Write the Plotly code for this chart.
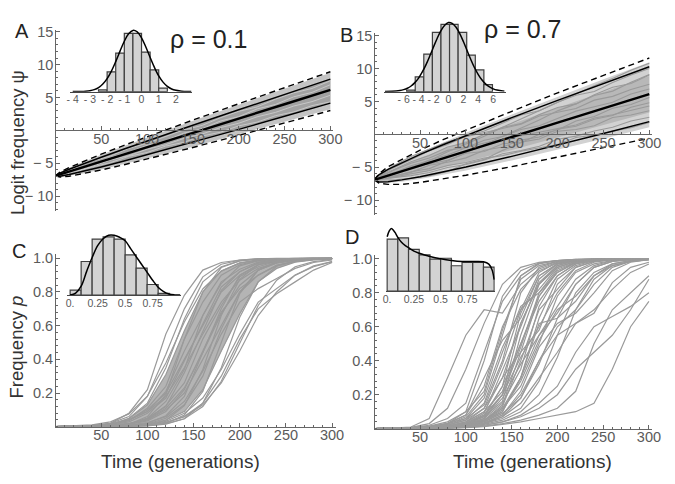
import plotly.graph_objects as go

W, H = 675, 484
FONT = "Liberation Sans, Arial, Helvetica, sans-serif"
TICK_GRAY = "#5a5a5a"
AXIS_GRAY = "#666666"
TRAJ_GRAY = "#9a9a9a"

# ---------------- data ----------------
T_env = [0, 5, 15, 30, 50, 75, 100, 150, 200, 250, 300]
T_grid = [0, 20, 40, 60, 80, 100, 120, 140, 160, 180, 200, 220, 240, 260, 280, 300]

# Panel A (rho = 0.1): logit frequency
A_mean = [-6.9, -6.68, -6.25, -5.6, -4.73, -3.64, -2.55, -0.38, 1.8, 3.98, 6.15]
A_solid_hi = [-6.9, -6.47, -5.88, -5.08, -4.06, -2.82, -1.6, 0.78, 3.14, 5.48, 7.8]
A_solid_lo = [-6.9, -6.94, -6.7, -6.23, -5.54, -4.64, -3.7, -1.79, 0.17, 2.16, 4.15]
A_dash_hi = [-6.9, -6.32, -5.63, -4.72, -3.6, -2.25, -0.95, 1.58, 4.06, 6.51, 8.92]
A_dash_lo = [-6.9, -7.08, -6.95, -6.59, -6.0, -5.2, -4.35, -2.58, -0.75, 1.13, 3.03]
A_cloud_hi = [-6.9, -6.34, -5.67, -4.78, -3.67, -2.34, -1.05, 1.46, 3.92, 6.35, 8.75]
A_cloud_lo = [-6.9, -7.06, -6.91, -6.53, -5.93, -5.11, -4.25, -2.46, -0.6, 1.29, 3.21]
A_core_hi = [-6.9, -6.48, -5.9, -5.11, -4.09, -2.86, -1.65, 0.72, 3.07, 5.4, 7.71]
A_core_lo = [-6.9, -6.93, -6.68, -6.2, -5.51, -4.59, -3.65, -1.73, 0.24, 2.24, 4.24]
A_streaks = [
    [-6.9, -5.73, -4.66, -3.89, -2.72, -1.95, -0.88, 0.09, 0.76, 1.93, 2.9, 3.57, 4.74, 5.71, 6.38, 7.55],
    [-6.9, -6.23, -5.56, -4.89, -3.92, -3.35, -2.38, -1.81, -0.84, -0.27, 0.7, 1.27, 2.24, 2.81, 3.78, 4.35],
    [-6.9, -5.93, -5.26, -4.09, -3.32, -2.25, -1.58, -0.41, 0.26, 1.43, 2.1, 3.27, 3.94, 5.11, 5.78, 6.95],
    [-6.9, -6.43, -5.46, -4.49, -3.82, -2.85, -2.18, -1.21, -0.54, 0.43, 1.1, 2.07, 2.74, 3.71, 4.38, 5.35],
]

# Panel B (rho = 0.7): logit frequency
B_mean = [-6.9, -6.68, -6.25, -5.6, -4.73, -3.65, -2.57, -0.4, 1.77, 3.93, 6.1]
B_solid_hi = [-6.9, -6.14, -5.32, -4.29, -3.03, -1.57, -0.17, 2.54, 5.16, 7.72, 10.26]
B_solid_lo = [-6.9, -7.22, -7.18, -6.91, -6.43, -5.73, -4.97, -3.34, -1.62, 0.14, 1.94]
B_dash_hi = [-6.9, -6.0, -4.9, -3.8, -2.4, -0.8, 0.65, 3.5, 6.3, 9.0, 11.6]
B_dash_lo = [-6.9, -7.4, -7.6, -7.6, -7.3, -6.8, -6.2, -4.9, -3.4, -2.0, -0.6]
B_cloud_hi = [-6.9, -6.05, -5.17, -4.07, -2.75, -1.23, 0.23, 3.03, 5.73, 8.36, 10.95]
B_cloud_lo = [-6.9, -7.33, -7.37, -7.19, -6.78, -6.16, -5.47, -3.95, -2.33, -0.65, 1.08]
B_core_hi = [-6.9, -6.32, -5.63, -4.72, -3.6, -2.26, -0.97, 1.56, 4.03, 6.46, 8.87]
B_core_lo = [-6.9, -7.04, -6.87, -6.48, -5.86, -5.04, -4.17, -2.36, -0.49, 1.4, 3.33]
B_traj = [
    [-6.9, -5.13, -3.87, -2.5, -1.53, -0.27, 0.5, 1.77, 2.93, 3.6, 4.87, 5.93, 6.5, 7.87, 9.03, 10.0],
    [-6.9, -6.63, -6.27, -5.8, -5.03, -4.57, -3.9, -2.93, -2.47, -1.8, -0.73, -0.27, 0.5, 1.07, 2.03, 2.6],
    [-6.9, -5.53, -4.37, -3.6, -2.43, -1.97, -1.3, -0.73, -0.27, 0.3, 0.87, 1.43, 2.5, 2.97, 3.63, 4.3],
    [-6.9, -6.43, -5.67, -5.2, -4.03, -2.77, -1.6, -0.33, 0.93, 2.2, 3.57, 4.63, 5.9, 6.57, 7.93, 9.1],
    [-6.9, -5.83, -5.07, -3.9, -3.13, -1.97, -0.9, -0.33, 0.73, 1.3, 2.37, 3.53, 4.2, 4.87, 6.13, 6.9],
    [-6.9, -6.33, -5.77, -4.7, -4.23, -3.57, -2.4, -1.93, -0.87, -0.4, 0.77, 1.23, 2.3, 2.87, 4.13, 4.8],
    [-6.9, -4.83, -3.37, -2.2, -1.13, -0.37, 0.3, 0.87, 1.53, 2.8, 3.37, 3.93, 5.2, 5.77, 6.83, 7.6],
    [-6.9, -6.93, -6.67, -6.3, -5.63, -4.47, -3.8, -2.43, -1.27, 0.0, 0.67, 2.03, 2.7, 3.97, 4.53, 5.6],
    [-6.9, -5.43, -4.17, -3.2, -1.93, -1.27, 0.0, 1.07, 1.63, 3.0, 4.07, 4.63, 6.0, 7.17, 7.73, 9.0],
    [-6.9, -6.53, -5.97, -5.5, -4.73, -4.27, -3.6, -3.23, -2.57, -2.0, -1.53, -0.47, -0.1, 0.47, 1.03, 1.8],
    [-6.9, -5.93, -4.77, -4.0, -2.63, -1.47, -0.3, 1.07, 2.33, 3.5, 4.77, 6.03, 7.4, 8.47, 9.73, 10.8],
    [-6.9, -6.13, -4.87, -4.5, -3.93, -2.87, -2.6, -1.43, -1.17, -0.7, 0.47, 0.73, 1.3, 2.57, 2.93, 3.6],
]

# Panel C (rho = 0.1): frequency p
C_core_hi = [0.001, 0.002, 0.005, 0.016, 0.047, 0.13, 0.31, 0.57, 0.8, 0.925, 0.973, 0.991, 0.997, 0.999, 1.0, 1.0]
C_core_lo = [0.001, 0.001, 0.001, 0.002, 0.005, 0.014, 0.04, 0.09, 0.22, 0.45, 0.67, 0.86, 0.94, 0.977, 0.99, 0.997]
C_traj = [
    [0.001, 0.002, 0.004, 0.02, 0.08, 0.22, 0.55, 0.78, 0.93, 0.975, 0.99, 0.996, 0.998, 0.999, 1.0, 1.0],
    [0.001, 0.002, 0.004, 0.012, 0.05, 0.14, 0.35, 0.64, 0.86, 0.95, 0.985, 0.995, 0.998, 0.999, 1.0, 1.0],
    [0.001, 0.004, 0.011, 0.029, 0.076, 0.182, 0.378, 0.622, 0.818, 0.924, 0.971, 0.989, 0.996, 0.998, 0.999, 1.0],
    [0.001, 0.0015, 0.004, 0.012, 0.036, 0.11, 0.24, 0.52, 0.74, 0.9, 0.962, 0.988, 0.996, 0.998, 0.999, 1.0],
    [0.001, 0.002, 0.005, 0.014, 0.04, 0.09, 0.21, 0.45, 0.66, 0.86, 0.935, 0.978, 0.991, 0.997, 0.999, 1.0],
    [0.001, 0.001, 0.0015, 0.0045, 0.015, 0.05, 0.15, 0.34, 0.66, 0.85, 0.955, 0.985, 0.995, 0.999, 1.0, 1.0],
    [0.001, 0.003, 0.007, 0.017, 0.04, 0.1, 0.2, 0.4, 0.6, 0.8, 0.9, 0.96, 0.983, 0.993, 0.997, 0.999],
    [0.001, 0.001, 0.002, 0.006, 0.016, 0.05, 0.12, 0.32, 0.56, 0.81, 0.92, 0.975, 0.99, 0.997, 0.999, 1.0],
    [0.001, 0.001, 0.0025, 0.007, 0.018, 0.045, 0.125, 0.26, 0.52, 0.72, 0.89, 0.95, 0.983, 0.993, 0.998, 0.999],
    [0.001, 0.001, 0.001, 0.002, 0.006, 0.02, 0.065, 0.18, 0.44, 0.7, 0.9, 0.962, 0.989, 0.997, 0.999, 1.0],
    [0.001, 0.001, 0.003, 0.007, 0.017, 0.04, 0.1, 0.2, 0.4, 0.6, 0.8, 0.9, 0.96, 0.983, 0.993, 0.997],
    [0.001, 0.001, 0.001, 0.002, 0.005, 0.016, 0.05, 0.13, 0.3, 0.58, 0.8, 0.93, 0.972, 0.99, 0.997, 0.999],
    [0.001, 0.001, 0.001, 0.002, 0.005, 0.014, 0.04, 0.09, 0.22, 0.45, 0.67, 0.86, 0.94, 0.977, 0.99, 0.997],
    [0.001, 0.001, 0.001, 0.002, 0.005, 0.013, 0.032, 0.08, 0.17, 0.34, 0.55, 0.74, 0.82, 0.9, 0.95, 0.98],
    [0.001, 0.001, 0.001, 0.002, 0.005, 0.011, 0.026, 0.06, 0.13, 0.26, 0.45, 0.66, 0.8, 0.9, 0.955, 0.98],
    [0.001, 0.001, 0.001, 0.004, 0.015, 0.06, 0.19, 0.52, 0.8, 0.945, 0.985, 0.996, 0.999, 1.0, 1.0, 1.0],
    [0.001, 0.002, 0.006, 0.02, 0.06, 0.18, 0.43, 0.7, 0.89, 0.965, 0.989, 0.997, 0.999, 1.0, 1.0, 1.0],
    [0.001, 0.003, 0.007, 0.017, 0.04, 0.09, 0.18, 0.35, 0.55, 0.74, 0.87, 0.94, 0.974, 0.989, 0.995, 0.998],
    [0.001, 0.001, 0.001, 0.001, 0.0015, 0.006, 0.02, 0.07, 0.21, 0.5, 0.79, 0.93, 0.98, 0.994, 0.998, 1.0],
    [0.001, 0.001, 0.003, 0.007, 0.018, 0.043, 0.11, 0.23, 0.44, 0.67, 0.84, 0.93, 0.972, 0.989, 0.996, 0.998],
    [0.001, 0.002, 0.005, 0.016, 0.047, 0.13, 0.31, 0.57, 0.8, 0.925, 0.973, 0.991, 0.997, 0.999, 1.0, 1.0],
    [0.001, 0.001, 0.001, 0.001, 0.002, 0.005, 0.015, 0.047, 0.14, 0.35, 0.65, 0.86, 0.953, 0.985, 0.995, 0.998],
    [0.001, 0.001, 0.001, 0.001, 0.003, 0.01, 0.037, 0.125, 0.34, 0.66, 0.875, 0.963, 0.99, 0.997, 0.999, 1.0],
    [0.001, 0.0015, 0.004, 0.011, 0.029, 0.08, 0.17, 0.39, 0.61, 0.83, 0.92, 0.97, 0.989, 0.996, 0.998, 0.999],
    [0.001, 0.001, 0.001, 0.001, 0.0025, 0.007, 0.018, 0.047, 0.12, 0.27, 0.5, 0.72, 0.87, 0.95, 0.98, 0.993],
    [0.001, 0.001, 0.001, 0.002, 0.004, 0.01, 0.025, 0.06, 0.14, 0.3, 0.52, 0.7, 0.79, 0.86, 0.93, 0.975],
    [0.001, 0.001, 0.002, 0.004, 0.01, 0.025, 0.06, 0.15, 0.33, 0.55, 0.74, 0.82, 0.88, 0.94, 0.975, 0.99],
    [0.001, 0.001, 0.002, 0.005, 0.013, 0.035, 0.09, 0.22, 0.45, 0.68, 0.82, 0.9, 0.955, 0.98, 0.992, 0.997],
]

# Panel D (rho = 0.7): frequency p
D_traj = [
    [0.001, 0.003, 0.01, 0.06, 0.3, 0.55, 0.7, 0.68, 0.85, 0.94, 0.98, 0.99, 0.995, 0.998, 1.0, 1.0],
    [0.001, 0.002, 0.008, 0.03, 0.12, 0.35, 0.62, 0.85, 0.95, 0.98, 0.99, 0.996, 0.998, 1.0, 1.0, 1.0],
    [0.001, 0.002, 0.006, 0.02, 0.06, 0.15, 0.45, 0.75, 0.9, 0.97, 0.99, 0.996, 0.998, 1.0, 1.0, 1.0],
    [0.001, 0.002, 0.005, 0.015, 0.04, 0.1, 0.22, 0.58, 0.88, 0.96, 0.985, 0.995, 0.998, 1.0, 1.0, 1.0],
    [0.001, 0.001, 0.004, 0.01, 0.03, 0.08, 0.3, 0.52, 0.65, 0.9, 0.97, 0.99, 0.997, 0.999, 1.0, 1.0],
    [0.001, 0.002, 0.004, 0.012, 0.03, 0.06, 0.14, 0.4, 0.8, 0.95, 0.985, 0.995, 0.998, 1.0, 1.0, 1.0],
    [0.001, 0.001, 0.003, 0.008, 0.02, 0.05, 0.12, 0.3, 0.62, 0.85, 0.96, 0.99, 0.996, 0.999, 1.0, 1.0],
    [0.001, 0.001, 0.002, 0.006, 0.015, 0.04, 0.1, 0.22, 0.5, 0.78, 0.93, 0.98, 0.995, 0.998, 1.0, 1.0],
    [0.001, 0.001, 0.003, 0.007, 0.02, 0.06, 0.18, 0.48, 0.7, 0.82, 0.95, 0.985, 0.995, 0.998, 1.0, 1.0],
    [0.001, 0.002, 0.005, 0.01, 0.025, 0.07, 0.2, 0.55, 0.9, 0.975, 0.99, 0.997, 0.999, 1.0, 1.0, 1.0],
    [0.001, 0.001, 0.002, 0.005, 0.012, 0.03, 0.08, 0.2, 0.42, 0.6, 0.8, 0.93, 0.98, 0.995, 0.998, 1.0],
    [0.001, 0.001, 0.002, 0.004, 0.01, 0.025, 0.06, 0.15, 0.35, 0.72, 0.9, 0.97, 0.99, 0.997, 0.999, 1.0],
    [0.001, 0.001, 0.002, 0.005, 0.01, 0.02, 0.05, 0.1, 0.3, 0.55, 0.68, 0.85, 0.95, 0.985, 0.995, 0.998],
    [0.001, 0.001, 0.002, 0.005, 0.012, 0.03, 0.07, 0.16, 0.55, 0.85, 0.95, 0.985, 0.995, 0.998, 1.0, 1.0],
    [0.001, 0.001, 0.001, 0.003, 0.008, 0.02, 0.04, 0.09, 0.18, 0.38, 0.65, 0.85, 0.95, 0.985, 0.995, 0.998],
    [0.001, 0.001, 0.002, 0.004, 0.01, 0.02, 0.045, 0.12, 0.25, 0.5, 0.78, 0.92, 0.97, 0.99, 0.997, 0.999],
    [0.001, 0.001, 0.001, 0.003, 0.006, 0.015, 0.03, 0.07, 0.15, 0.3, 0.45, 0.62, 0.7, 0.82, 0.92, 0.97],
    [0.001, 0.001, 0.001, 0.002, 0.005, 0.01, 0.025, 0.05, 0.1, 0.2, 0.42, 0.7, 0.88, 0.96, 0.985, 0.995],
    [0.001, 0.001, 0.001, 0.002, 0.004, 0.008, 0.02, 0.04, 0.08, 0.15, 0.25, 0.45, 0.6, 0.66, 0.72, 0.8],
    [0.001, 0.001, 0.001, 0.002, 0.004, 0.008, 0.015, 0.03, 0.05, 0.08, 0.12, 0.22, 0.5, 0.7, 0.8, 0.9],
    [0.001, 0.001, 0.001, 0.002, 0.003, 0.006, 0.012, 0.025, 0.04, 0.06, 0.08, 0.1, 0.15, 0.35, 0.6, 0.75],
    [0.001, 0.001, 0.002, 0.004, 0.008, 0.018, 0.04, 0.1, 0.3, 0.62, 0.65, 0.75, 0.9, 0.97, 0.99, 0.997],
    [0.001, 0.001, 0.002, 0.004, 0.01, 0.025, 0.07, 0.25, 0.68, 0.9, 0.97, 0.99, 0.997, 0.999, 1.0, 1.0],
    [0.001, 0.001, 0.002, 0.005, 0.012, 0.03, 0.09, 0.35, 0.6, 0.88, 0.97, 0.99, 0.997, 0.999, 1.0, 1.0],
    [0.001, 0.001, 0.001, 0.003, 0.007, 0.015, 0.035, 0.08, 0.2, 0.4, 0.55, 0.62, 0.68, 0.86, 0.95, 0.98],
    [0.001, 0.001, 0.002, 0.004, 0.009, 0.02, 0.05, 0.13, 0.4, 0.7, 0.82, 0.95, 0.985, 0.995, 0.998, 1.0],
    [0.001, 0.001, 0.001, 0.003, 0.006, 0.012, 0.03, 0.06, 0.12, 0.28, 0.55, 0.8, 0.92, 0.97, 0.99, 0.996],
    [0.001, 0.002, 0.005, 0.012, 0.03, 0.08, 0.25, 0.6, 0.82, 0.93, 0.975, 0.99, 0.997, 0.999, 1.0, 1.0],
    [0.001, 0.001, 0.001, 0.002, 0.004, 0.01, 0.02, 0.04, 0.07, 0.12, 0.2, 0.35, 0.45, 0.55, 0.7, 0.88],
    [0.001, 0.001, 0.002, 0.005, 0.01, 0.02, 0.05, 0.14, 0.45, 0.78, 0.92, 0.98, 0.995, 0.998, 1.0, 1.0],
    [0.001, 0.001, 0.001, 0.002, 0.005, 0.012, 0.03, 0.08, 0.22, 0.48, 0.62, 0.68, 0.8, 0.93, 0.98, 0.995],
    [0.001, 0.002, 0.004, 0.01, 0.03, 0.1, 0.4, 0.78, 0.93, 0.975, 0.99, 0.997, 0.999, 1.0, 1.0, 1.0],
    [0.001, 0.001, 0.002, 0.005, 0.012, 0.03, 0.08, 0.25, 0.5, 0.75, 0.9, 0.97, 0.99, 0.997, 0.999, 1.0],
    [0.001, 0.001, 0.002, 0.004, 0.01, 0.025, 0.06, 0.2, 0.62, 0.86, 0.96, 0.99, 0.997, 0.999, 1.0, 1.0],
    [0.001, 0.001, 0.002, 0.006, 0.015, 0.04, 0.12, 0.38, 0.7, 0.92, 0.98, 0.995, 0.998, 1.0, 1.0, 1.0],
    [0.001, 0.001, 0.001, 0.003, 0.008, 0.02, 0.05, 0.12, 0.3, 0.65, 0.88, 0.96, 0.99, 0.997, 0.999, 1.0],
    [0.001, 0.001, 0.002, 0.005, 0.012, 0.035, 0.1, 0.3, 0.45, 0.58, 0.85, 0.95, 0.985, 0.995, 0.998, 1.0],
    [0.001, 0.001, 0.002, 0.004, 0.009, 0.02, 0.06, 0.18, 0.38, 0.55, 0.72, 0.88, 0.96, 0.99, 0.997, 0.999],
    [0.001, 0.001, 0.001, 0.003, 0.007, 0.018, 0.045, 0.11, 0.28, 0.52, 0.7, 0.78, 0.9, 0.96, 0.985, 0.995],
    [0.001, 0.001, 0.002, 0.005, 0.011, 0.028, 0.075, 0.2, 0.48, 0.8, 0.94, 0.98, 0.995, 0.998, 1.0, 1.0],
    [0.001, 0.002, 0.004, 0.009, 0.02, 0.05, 0.15, 0.45, 0.72, 0.8, 0.92, 0.975, 0.99, 0.997, 0.999, 1.0],
    [0.001, 0.001, 0.001, 0.002, 0.005, 0.012, 0.03, 0.07, 0.18, 0.4, 0.6, 0.7, 0.85, 0.95, 0.985, 0.995],
]

# Inset histograms (bin edges, bar heights) and fitted curves
histA_edges = [-2.5, -2.0, -1.5, -1.0, -0.5, 0.0, 0.5, 1.0, 1.5]
histA_heights = [1.7, 20, 39, 59, 59, 40, 22, 3.5]
curveA_x = [-4.0, -3.5, -3.25, -3.0, -2.75, -2.5, -2.25, -2.0, -1.75, -1.5, -1.25, -1.0, -0.75, -0.5,
            -0.25, 0.0, 0.25, 0.5, 0.75, 1.0, 1.25, 1.5, 1.75, 2.0, 2.25, 2.5, 2.75, 2.9]
curveA_y = [0.0, 0.15, 0.4, 0.93, 2.0, 4.1, 7.7, 13.2, 20.8, 30.4, 41.0, 51.0, 58.5, 62.0,
            60.4, 54.4, 45.2, 34.6, 24.5, 15.9, 9.6, 5.3, 2.7, 1.3, 0.56, 0.23, 0.08, 0.0]
histA_ticks = [-4, -3, -2, -1, 0, 1, 2]
histA_ticktext = ["- 4", "- 3", "- 2", "- 1", "0", "1", "2"]

histB_edges = [-5.6, -4.45, -3.3, -2.15, -1.0, 0.15, 1.3, 2.45, 3.6, 4.75, 5.9]
histB_heights = [1.5, 15, 38, 60, 68, 68, 60, 37, 22, 7]
curveB_x = [-8.5, -7.0, -6.5, -6.0, -5.5, -5.0, -4.5, -4.0, -3.5, -3.0, -2.5, -2.0, -1.5, -1.0, -0.5,
            0.0, 0.5, 1.0, 1.5, 2.0, 2.5, 3.0, 3.5, 4.0, 4.5, 5.0, 5.5, 6.0, 6.5, 7.5]
curveB_y = [0.1, 0.6, 1.1, 2.0, 3.4, 5.7, 9.1, 13.7, 19.9, 27.4, 36.0, 45.2, 54.1, 61.8, 67.3,
            70.0, 69.2, 65.4, 58.9, 50.7, 41.5, 32.5, 24.2, 17.3, 11.7, 7.6, 4.7, 2.8, 1.6, 0.5]
histB_ticks = [-6, -4, -2, 0, 2, 4, 6]
histB_ticktext = ["- 6", "- 4", "- 2", "0", "2", "4", "6"]

histC_edges = [0.0, 0.1, 0.2, 0.3, 0.4, 0.5, 0.6, 0.7, 0.8, 0.9]
histC_heights = [5, 34, 56.7, 59, 56.7, 40.7, 27.3, 10.7, 1.7]
curveC_x = [0.0, 0.05, 0.1, 0.15, 0.2, 0.25, 0.3, 0.35, 0.4, 0.45, 0.5, 0.55, 0.6, 0.65, 0.7,
            0.75, 0.8, 0.85, 0.9, 0.95, 1.0]
curveC_y = [0, 2, 9, 24, 38, 50, 57, 60.5, 60.5, 58.5, 55, 47, 39, 31, 23, 15, 8, 3.5, 1, 0.2, 0]

histD_edges = [0.0, 0.1, 0.2, 0.3, 0.4, 0.5, 0.6, 0.7, 0.8, 0.9, 1.0]
histD_heights = [52.7, 54, 42.3, 36.7, 32.3, 33.3, 25.7, 29, 29, 24.3]
curveD_x = [0.0, 0.02, 0.04, 0.06, 0.08, 0.1, 0.13, 0.17, 0.21, 0.25, 0.3, 0.35, 0.4, 0.5, 0.6,
            0.7, 0.8, 0.9, 0.95, 0.98, 1.0]
curveD_y = [55, 61, 63.3, 61.5, 58.3, 54.5, 50, 46, 43.3, 40.5, 38.3, 36.5, 35, 32.7, 31, 30, 30,
            29.7, 27.3, 21.7, 11.7]
freq_hist_ticks = [0, 0.25, 0.5, 0.75]
freq_hist_ticktext = ["0.", "0.25", "0.5", "0.75"]

time_ticks = [50, 100, 150, 200, 250, 300]
logit_ticks = [-10, -5, 5, 10, 15]
logit_ticktext = ["\u2212 10", "\u2212 5", "5", "10", "15"]
freq_ticks = [0.2, 0.4, 0.6, 0.8, 1.0]
freq_ticktext = ["0.2", "0.4", "0.6", "0.8", "1.0"]


# ---------------- helpers ----------------
def fx(p):
    return p / W


def fy(p):
    return 1 - p / H


fig = go.Figure()


def add_line(x, y, ax, color, width, dash=None, shape="linear"):
    fig.add_trace(go.Scatter(x=x, y=y, mode="lines",
                             line=dict(color=color, width=width, dash=dash, shape=shape),
                             xaxis="x" + ax, yaxis="y" + ax, hoverinfo="skip"))


def add_band(x, hi, lo, ax, color):
    fig.add_trace(go.Scatter(x=list(x) + list(x)[::-1], y=list(hi) + list(lo)[::-1],
                             mode="lines", fill="toself", fillcolor=color,
                             line=dict(width=0, color=color),
                             xaxis="x" + ax, yaxis="y" + ax, hoverinfo="skip"))


def add_hist(edges, heights, ax):
    centers = [(edges[i] + edges[i + 1]) / 2 for i in range(len(heights))]
    widths = [edges[i + 1] - edges[i] for i in range(len(heights))]
    fig.add_trace(go.Bar(x=centers, y=heights, width=widths,
                         marker=dict(color="#d3d3d3", line=dict(color="#3f3f3f", width=1.2)),
                         xaxis="x" + ax, yaxis="y" + ax, hoverinfo="skip"))


# ---------------- Panel A ----------------
add_band(T_env, A_cloud_hi, A_cloud_lo, "", "#c4c4c4")
add_band(T_env, A_core_hi, A_core_lo, "", "#a2a2a2")
for s in A_streaks:
    add_line(T_grid, s, "", "#d0d0d0", 0.8)
add_line(T_env, A_dash_hi, "", "black", 1.4, dash="6px,4px")
add_line(T_env, A_dash_lo, "", "black", 1.4, dash="6px,4px")
add_line(T_env, A_solid_hi, "", "black", 1.5)
add_line(T_env, A_solid_lo, "", "black", 1.5)
add_line(T_env, A_mean, "", "black", 2.4)

# ---------------- Panel B ----------------
add_band(T_env, B_cloud_hi, B_cloud_lo, "2", "#d2d2d2")
add_band(T_env, B_core_hi, B_core_lo, "2", "#b8b8b8")
for tr in B_traj:
    add_line(T_grid, tr, "2", TRAJ_GRAY, 1.1)
add_line(T_env, B_dash_hi, "2", "black", 1.4, dash="6px,4px")
add_line(T_env, B_dash_lo, "2", "black", 1.4, dash="6px,4px")
add_line(T_env, B_solid_hi, "2", "black", 1.5)
add_line(T_env, B_solid_lo, "2", "black", 1.5)
add_line(T_env, B_mean, "2", "black", 2.4)

# ---------------- Panel C ----------------
add_band(T_grid, C_core_hi, C_core_lo, "3", "#b4b4b4")
for tr in C_traj:
    add_line(T_grid, tr, "3", TRAJ_GRAY, 1.2)

# ---------------- Panel D ----------------
for tr in D_traj:
    add_line(T_grid, tr, "4", TRAJ_GRAY, 1.2)

# ---------------- insets ----------------
add_hist(histA_edges, histA_heights, "5")
add_line(curveA_x, curveA_y, "5", "black", 1.5, shape="spline")
add_hist(histB_edges, histB_heights, "6")
add_line(curveB_x, curveB_y, "6", "black", 1.5, shape="spline")
add_hist(histC_edges, histC_heights, "7")
add_line(curveC_x, curveC_y, "7", "black", 1.5, shape="spline")
add_hist(histD_edges, histD_heights, "8")
add_line(curveD_x, curveD_y, "8", "black", 1.5, shape="spline")

# ---------------- axes ----------------
tickfont = dict(family=FONT, size=14.5, color=TICK_GRAY)
insetfont = dict(family=FONT, size=10.5, color=TICK_GRAY)


def main_x(dom, rng, ypos):
    return dict(domain=[fx(dom[0]), fx(dom[1])], range=rng, anchor="free", position=fy(ypos),
                showline=True, linecolor=AXIS_GRAY, linewidth=1, showgrid=False, zeroline=False,
                ticks="inside", ticklen=4, tickcolor=AXIS_GRAY, tickmode="array",
                tickvals=time_ticks, ticktext=[str(v) for v in time_ticks], tickfont=tickfont,
                ticklabelstandoff=-5,
                minor=dict(tickmode="linear", tick0=0, dtick=10, ticks="inside", ticklen=2,
                           tickcolor=AXIS_GRAY, showgrid=False),
                fixedrange=True)


def main_y(dom, rng, xpos, vals, text, mdt):
    return dict(domain=[fy(dom[0]), fy(dom[1])], range=rng, anchor="free", position=fx(xpos),
                showline=True, linecolor=AXIS_GRAY, linewidth=1, showgrid=False, zeroline=False,
                ticks="inside", ticklen=4, tickcolor=AXIS_GRAY, tickmode="array",
                tickvals=vals, ticktext=text, tickfont=tickfont, ticklabelstandoff=-1,
                minor=dict(tickmode="linear", tick0=0, dtick=mdt, ticks="inside", ticklen=2,
                           tickcolor=AXIS_GRAY, showgrid=False),
                fixedrange=True)


def inset_x(dom, rng, anchor, vals, text):
    return dict(domain=[fx(dom[0]), fx(dom[1])], range=rng, anchor=anchor,
                showline=True, linecolor="#444444", linewidth=1.2, showgrid=False,
                zeroline=False, ticks="", tickmode="array", tickvals=vals, ticktext=text,
                tickfont=insetfont, ticklabelstandoff=-2, fixedrange=True)


def inset_y(dom, rng):
    return dict(domain=[fy(dom[0]), fy(dom[1])], range=rng, visible=False, fixedrange=True)


layout = dict(
    width=W, height=H, margin=dict(l=0, r=0, t=0, b=0),
    paper_bgcolor="white", plot_bgcolor="rgba(0,0,0,0)", showlegend=False,
    font=dict(family=FONT, color="#333333"),
    xaxis=main_x((53.3, 336.1), [0, 303], 126),
    yaxis=main_y((207.4, 24.0), [-12.2, 15.3], 53.3, logit_ticks, logit_ticktext, 1),
    xaxis2=main_x((378, 660.8), [0, 303], 130),
    yaxis2=main_y((212.0, 27.3), [-12.3, 15.4], 378, logit_ticks, logit_ticktext, 1),
    xaxis3=main_x((53, 338.8), [0, 304], 426),
    yaxis3=main_y((427.7, 251.2), [-0.01, 1.025], 53, freq_ticks, freq_ticktext, 0.04),
    xaxis4=main_x((378, 660.4), [0, 303], 428),
    yaxis4=main_y((429.7, 251.7), [-0.01, 1.025], 378, freq_ticks, freq_ticktext, 0.04),
    xaxis5=inset_x((68, 192), [-4.17, 2.91], "y5", histA_ticks, histA_ticktext),
    yaxis5=inset_y((86.7, 21.7), [0, 65]),
    xaxis6=inset_x((388, 512), [-8.62, 7.7], "y6", histB_ticks, histB_ticktext),
    yaxis6=inset_y((86.7, 14.7), [0, 72]),
    xaxis7=inset_x((65, 181.7), [-0.03, 1.012], "y7", freq_hist_ticks, freq_hist_ticktext),
    yaxis7=inset_y((292.7, 230), [0, 62.7]),
    xaxis8=inset_x((390, 500.7), [-0.01, 1.006], "y8", freq_hist_ticks, freq_hist_ticktext),
    yaxis8=inset_y((288.7, 224), [0, 64.7]),
)
fig.update_layout(**layout)


def note(text, x, y, size, color="#222222", angle=0):
    fig.add_annotation(text=text, x=fx(x), y=fy(y), xref="paper", yref="paper",
                       showarrow=False, xanchor="center", yanchor="middle", textangle=angle,
                       font=dict(family=FONT, size=size, color=color))


note("A", 19, 25, 20)
note("B", 350, 29.5, 20)
note("C", 16, 248, 20)
note("D", 355, 234, 20)
note("\u03c1 = 0.1", 209, 33, 25)
note("\u03c1 = 0.7", 529, 23, 25)
note("Logit frequency \u03c8", 15, 138, 18.5, color="#333333", angle=-90)
note("Frequency <i>p</i>", 14, 345, 18.5, color="#333333", angle=-90)
note("Time (generations)", 181, 461, 19, color="#333333")
note("Time (generations)", 539, 461, 19, color="#333333")

fig.write_html("out.html")
